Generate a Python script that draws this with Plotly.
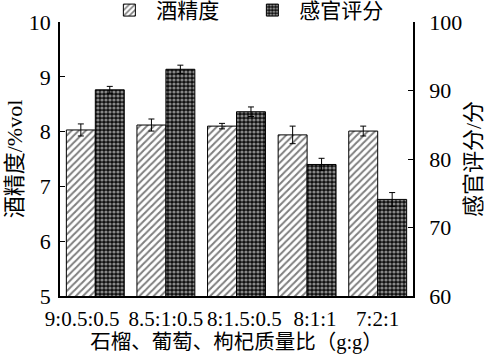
import plotly.graph_objects as go

categories = ["9:0.5:0.5", "8.5:1:0.5", "8:1.5:0.5", "8:1:1", "7:2:1"]
series_names = ["酒精度", "感官评分"]
alcohol = [8.03, 8.12, 8.10, 7.94, 8.01]
alcohol_err = [0.11, 0.11, 0.05, 0.16, 0.09]
sensory = [90.1, 93.1, 86.9, 79.2, 74.1]
sensory_err = [0.5, 0.6, 0.7, 0.9, 1.0]

FONT = "Liberation Serif, Times New Roman, Noto Sans CJK SC, serif"
W = 0.41
NB = "\u00a0"

# labels sit slightly off-centre in the original; nudge them with no-break spaces
ticktext = [categories[0] + NB * 5, categories[1], NB * 3 + categories[2],
            NB * 3 + categories[3], categories[4]]

fig = go.Figure()
fig.add_trace(go.Bar(
    x=categories, y=alcohol, name=series_names[0] + NB * 4,
    width=W, offset=-W, base=0,
    marker=dict(color="white", line=dict(color="black", width=1),
                pattern=dict(shape="/", fgcolor="black", bgcolor="white", size=5, solidity=0.4)),
    error_y=dict(type="data", array=alcohol_err, color="black", thickness=1, width=3),
    yaxis="y",
))
fig.add_trace(go.Bar(
    x=categories, y=sensory, name=series_names[1],
    width=W, offset=0, base=0,
    marker=dict(color="black", line=dict(color="black", width=1),
                pattern=dict(shape=".", fgcolor="white", bgcolor="#111", size=4, solidity=0.5)),
    error_y=dict(type="data", array=sensory_err, color="black", thickness=1, width=3),
    yaxis="y2",
))

fig.update_layout(
    width=486, height=364,
    margin=dict(l=60, r=73, t=22, b=68, autoexpand=False),
    plot_bgcolor="white", paper_bgcolor="white",
    font=dict(family=FONT, size=21, color="black"),
    showlegend=True,
    legend=dict(orientation="h", x=0.12, y=1.117, xanchor="left", yanchor="top",
                font=dict(size=21), bgcolor="rgba(0,0,0,0)", itemwidth=44,
                tracegroupgap=0),
    xaxis=dict(showline=True, linecolor="black", linewidth=1.5, ticks="",
               tickmode="array", tickvals=categories, ticktext=ticktext, tickangle=0,
               ticklabelstandoff=3,
               title=dict(text=NB * 2 + "石榴、葡萄、枸杞质量比（g:g）", standoff=4,
                          font=dict(size=20.5)),
               tickfont=dict(size=21), showgrid=False, zeroline=False),
    yaxis=dict(range=[5, 10], dtick=1, showline=True, linecolor="black", linewidth=1.5,
               ticks="inside", ticklen=5, tickcolor="black", showgrid=False, zeroline=False,
               title=dict(text="酒精度/%vol", standoff=0, font=dict(size=22)),
               tickfont=dict(size=22), ticklabelstandoff=3),
    yaxis2=dict(range=[60, 100], dtick=10, overlaying="y", side="right", showline=True,
                linecolor="black", linewidth=1.5, ticks="inside", ticklen=5, tickcolor="black",
                showgrid=False, zeroline=False,
                title=dict(text="感官评分/分", standoff=6, font=dict(size=22)),
                tickfont=dict(size=22), ticklabelstandoff=10),
)

fig.write_html("out.html", config={"displayModeBar": False},
               post_script="document.body.style.margin='0px';")
